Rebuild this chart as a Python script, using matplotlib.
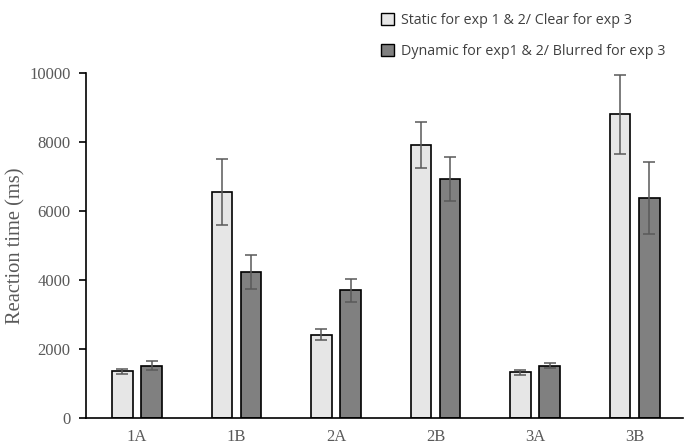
import numpy as np
import matplotlib
matplotlib.use("Agg")
import matplotlib.pyplot as plt
from matplotlib.patches import Patch

# data
categories = ['1A', '1B', '2A', '2B', '3A', '3B']
static_clear = [1350, 6550, 2420, 7920, 1320, 8800]
static_err = [80, 950, 150, 670, 70, 1150]
dynamic_blurred = [1520, 4230, 3700, 6930, 1520, 6370]
dynamic_err = [120, 500, 330, 630, 80, 1050]
legend_labels = ['Static for exp 1 & 2/ Clear for exp 3',
                 'Dynamic for exp1 & 2/ Blurred for exp 3']

light = '#e6e6e6'
dark = '#808080'
grey_txt = '#595959'

fig = plt.figure(figsize=(6.85, 4.48), dpi=100)
ax = fig.add_axes([0.1255, 0.067, 0.872, 0.770])

x = np.arange(len(categories))
w = 0.21
off = 0.146
ax.bar(x - off, static_clear, w, color=light, edgecolor='black', linewidth=1.2,
       yerr=static_err, error_kw=dict(ecolor=grey_txt, elinewidth=1.1, capsize=4, capthick=1.1))
ax.bar(x + off, dynamic_blurred, w, color=dark, edgecolor='black', linewidth=1.2,
       yerr=dynamic_err, error_kw=dict(ecolor=grey_txt, elinewidth=1.1, capsize=4, capthick=1.1))

ax.set_xlim(-0.513, 5.49)
ax.set_ylim(0, 10000)
ax.set_yticks(np.arange(0, 10001, 2000))
ax.set_xticks(x)
ax.set_xticklabels(categories)

for s in ['top', 'right']:
    ax.spines[s].set_visible(False)
ax.spines['left'].set_linewidth(1.2)
ax.spines['bottom'].set_linewidth(1.2)

serif = 'Liberation Serif'
ax.tick_params(axis='y', direction='out', length=5, width=1.2, labelsize=12,
               labelcolor=grey_txt, pad=6)
ax.tick_params(axis='x', length=0, labelsize=12, labelcolor=grey_txt, pad=8)
for lab in ax.get_xticklabels() + ax.get_yticklabels():
    lab.set_family(serif)
ax.set_ylabel('Reaction time (ms)', family=serif, fontsize=14.8, color=grey_txt, labelpad=3)

handles = [Patch(facecolor=light, edgecolor='black', linewidth=1.0),
           Patch(facecolor=dark, edgecolor='black', linewidth=1.0)]
fig.legend(handles, legend_labels, loc='upper left', bbox_to_anchor=(0.537, 1.0),
           frameon=False, prop={'family': 'Open Sans', 'size': 10.3},
           handlelength=0.9, handleheight=0.9, handletextpad=0.5,
           labelspacing=1.1, labelcolor='#404040')

fig.savefig('out.png', dpi=100)
